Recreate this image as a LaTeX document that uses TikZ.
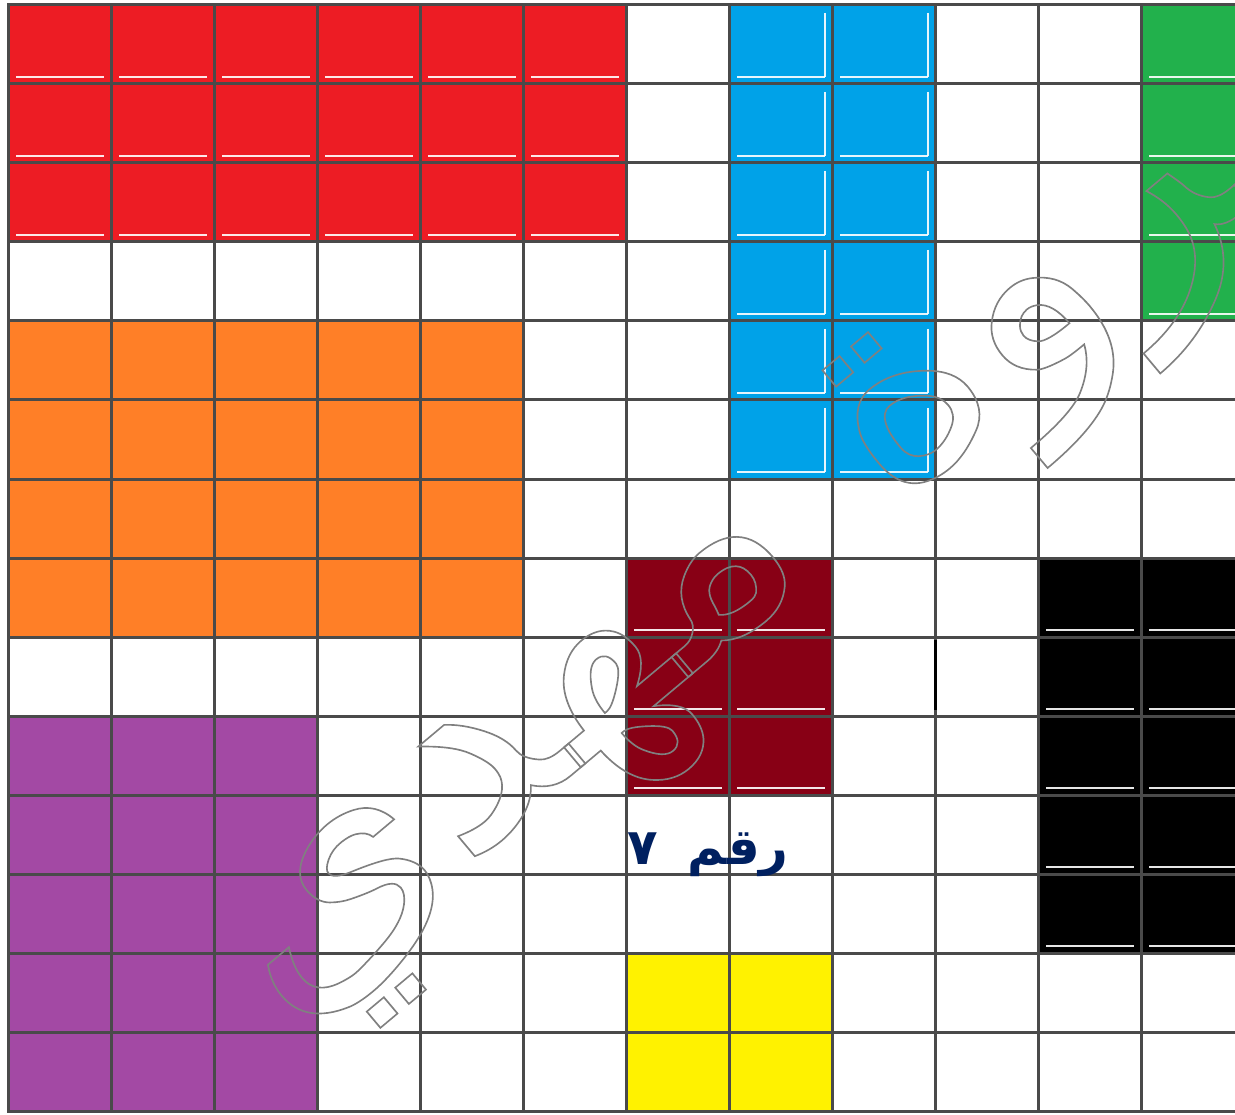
\documentclass[tikz,border=0pt]{standalone}
\usepackage{fontspec}
\newfontfamily\arabicfont[Script=Arabic]{DejaVu Sans}
\TeXXeTstate=1
\definecolor{cred}{HTML}{ED1C24}
\definecolor{cblue}{HTML}{00A2E8}
\definecolor{cgreen}{HTML}{22B14C}
\definecolor{corange}{HTML}{FF7F27}
\definecolor{cmaroon}{HTML}{880015}
\definecolor{cpurple}{HTML}{A349A4}
\definecolor{cyellow}{HTML}{FFF200}
\definecolor{cnavy}{HTML}{002060}
\definecolor{cgrid}{HTML}{4A4A4A}
\tikzset{
  gridline/.style={line width=3pt, draw=cgrid, line cap=rect},
  hilite/.style={line width=1.6pt, draw=white, opacity=0.9},
  wmtext/.style={rotate=40, xscale=1.05, text=black!50, font=\arabicfont\fontsize{290}{300}\selectfont},
  labeltext/.style={text=cnavy, font=\arabicfont\bfseries\fontsize{50}{54}\selectfont}
}
\begin{document}
\begin{tikzpicture}[x=1pt,y=-1pt]
\clip (0,0) rectangle (1235,1115);
\fill[white] (0,0) rectangle (1235,1115);
% coloured blocks: first col / first row / last col+1 / last row+1 / colour
\foreach \ca/\ra/\cb/\rb/\col in {0/0/6/3/cred, 7/0/9/6/cblue, 11/0/12/4/cgreen, 0/4/5/8/corange, 6/7/8/10/cmaroon, 10/7/12/12/black, 0/9/3/14/cpurple, 6/12/8/14/cyellow}
  \fill[\col] ({8+103*\ca},{5+79*\ra}) rectangle ({8+103*\cb},{5+79*\rb});
% white highlight strokes inside some coloured cells
\foreach \ca/\ra/\cb/\rb in {0/0/6/3, 7/0/9/6, 6/7/8/10, 10/7/12/12, 11/0/12/4} {
  \pgfmathtruncatemacro\cl{\cb-1}
  \pgfmathtruncatemacro\rl{\rb-1}
  \foreach \c in {\ca,...,\cl}
    \foreach \r in {\ra,...,\rl}
      \draw[hilite] ({8+103*\c+8},{5+79*\r+72}) -- ({8+103*\c+96},{5+79*\r+72});
}
\foreach \c in {7,8}
  \foreach \r in {0,...,5}
    \draw[hilite] ({8+103*\c+96},{5+79*\r+8}) -- ({8+103*\c+96},{5+79*\r+72});
% grid
\foreach \i in {0,...,12}
  \draw[gridline] ({8+103*\i},5) -- ({8+103*\i},1111);
\foreach \j in {0,...,14}
  \draw[gridline] (8,{5+79*\j}) -- (1244,{5+79*\j});
\draw[line width=3pt, black] (935,640) -- (935,710);
% label
\node[labeltext] (label) at (708,855) {\beginR رقم\hspace{30pt}٧\endR};
% watermark
\node[wmtext] (wm) at (803,530) {\special{pdf:literal direct 1 Tr 1.6 w}\beginR مروة مهدي\endR\special{pdf:literal direct 0 Tr}};
\end{tikzpicture}
\end{document}
